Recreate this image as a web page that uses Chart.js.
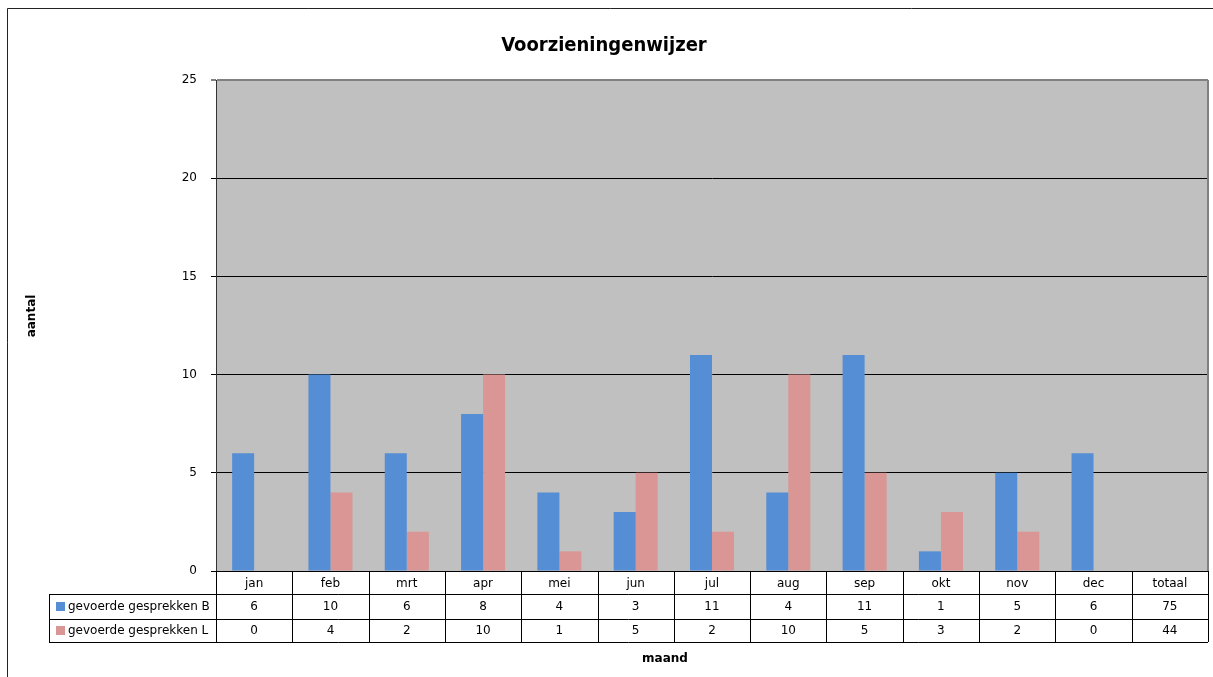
<!DOCTYPE html>
<html lang="nl">
<head>
<meta charset="utf-8">
<title>Voorzieningenwijzer</title>
<script src="https://cdn.jsdelivr.net/npm/chart.js@4/dist/chart.umd.min.js"></script>
<style>
  html, body { margin: 0; padding: 0; background: #fff; }
  #wrap { width: 1213px; height: 677px; }
</style>
</head>
<body>
<div id="wrap"><canvas id="chart" width="1213" height="677"></canvas></div>
<script>
/* ---------- Data ---------- */
const months   = ['jan','feb','mrt','apr','mei','jun','jul','aug','sep','okt','nov','dec','totaal'];
const seriesB  = [6, 10, 6, 8, 4, 3, 11, 4, 11, 1, 5, 6];
const seriesL  = [0, 4, 2, 10, 1, 5, 2, 10, 5, 3, 2, 0];
const totalB   = 75;
const totalL   = 44;
const yTicks   = [0, 5, 10, 15, 20, 25];

const labelB = 'gevoerde gesprekken B';
const labelL = 'gevoerde gesprekken L';
const colorB = '#558ed5';
const colorL = '#d99694';

const FONT = "'DejaVu Sans', 'Liberation Sans', sans-serif";
const TITLE_FONT = "'DejaVu Sans Condensed', 'DejaVu Sans', sans-serif";

/* ---------- Frame, plot background, data table ---------- */
const tablePlugin = {
  id: 'excelTable',
  beforeDraw(chart) {
    const { ctx, chartArea: a } = chart;
    ctx.save();
    ctx.fillStyle = '#fff';
    ctx.fillRect(0, 0, chart.width, chart.height);
    // outer frame
    ctx.strokeStyle = '#222';
    ctx.lineWidth = 1;
    ctx.beginPath();
    ctx.moveTo(7.5, chart.height);
    ctx.lineTo(7.5, 8.5);
    ctx.lineTo(chart.width, 8.5);
    ctx.stroke();
    // plot area
    ctx.fillStyle = '#c0c0c0';
    ctx.fillRect(a.left, a.top, a.right - a.left, a.bottom - a.top);
    ctx.restore();
  },
  afterDraw(chart) {
    const { ctx, chartArea: a } = chart;
    const x = chart.scales.x;
    const colW = (a.right - a.left) / months.length;
    const legendLeft = 49;
    const rows = [a.bottom, a.bottom + 23, a.bottom + 48, a.bottom + 71];

    ctx.save();
    // right edge of the plot
    ctx.strokeStyle = '#808080';
    ctx.lineWidth = 2;
    ctx.beginPath();
    ctx.moveTo(a.right, a.top);
    ctx.lineTo(a.right, a.bottom);
    ctx.stroke();

    // table grid
    ctx.strokeStyle = '#000';
    ctx.lineWidth = 1;
    ctx.beginPath();
    for (let i = 0; i <= months.length; i++) {
      const px = Math.round(x.getPixelForValue(i) - colW / 2) + 0.5;
      ctx.moveTo(px, rows[0]);
      ctx.lineTo(px, rows[3]);
    }
    for (let r = 1; r < rows.length; r++) {
      ctx.moveTo(legendLeft, Math.round(rows[r]) + 0.5);
      ctx.lineTo(a.right, Math.round(rows[r]) + 0.5);
    }
    ctx.moveTo(legendLeft + 0.5, rows[1]);
    ctx.lineTo(legendLeft + 0.5, rows[3]);
    ctx.stroke();

    // cell text
    ctx.fillStyle = '#000';
    ctx.font = '12px ' + FONT;
    ctx.textAlign = 'center';
    ctx.textBaseline = 'middle';
    const valsB = seriesB.concat([totalB]);
    const valsL = seriesL.concat([totalL]);
    months.forEach((m, i) => {
      const cx = x.getPixelForValue(i);
      ctx.fillText(m, cx, (rows[0] + rows[1]) / 2 + 1);
      ctx.fillText(String(valsB[i]), cx, (rows[1] + rows[2]) / 2);
      ctx.fillText(String(valsL[i]), cx, (rows[2] + rows[3]) / 2);
    });

    // legend keys
    ctx.textAlign = 'left';
    [[labelB, colorB, 1], [labelL, colorL, 2]].forEach(([txt, col, r]) => {
      const cy = (rows[r] + rows[r + 1]) / 2;
      ctx.fillStyle = col;
      ctx.fillRect(56, Math.round(cy - 4.5), 9, 9);
      ctx.fillStyle = '#000';
      ctx.fillText(txt, 68, cy);
    });

    // axis titles
    ctx.font = 'bold 12px ' + FONT;
    ctx.textAlign = 'center';
    ctx.fillText('maand', 665, 659);
    ctx.translate(32, 316);
    ctx.rotate(-Math.PI / 2);
    ctx.fillText('aantal', 0, 0);
    ctx.restore();
  }
};

/* ---------- Chart ---------- */
new Chart(document.getElementById('chart'), {
  type: 'bar',
  data: {
    labels: months,
    datasets: [
      { label: labelB, data: seriesB.concat([null]), backgroundColor: colorB, borderWidth: 0 },
      { label: labelL, data: seriesL.concat([null]), backgroundColor: colorL, borderWidth: 0 }
    ]
  },
  options: {
    responsive: false,
    animation: false,
    layout: { padding: { left: 0, right: 5, top: 0, bottom: 0 } },
    datasets: { bar: { barPercentage: 1, categoryPercentage: 0.577 } },
    plugins: {
      legend: { display: false },
      tooltip: { enabled: false },
      title: {
        display: true,
        text: 'Voorzieningenwijzer',
        color: '#000',
        font: { family: TITLE_FONT, size: 20, weight: 'bold' },
        padding: { top: 34, bottom: 22 }
      }
    },
    scales: {
      x: {
        ticks: { display: false },
        grid: { display: false, drawTicks: false },
        border: { display: true, color: '#000', width: 1 },
        afterFit(s) { s.height = 106; }
      },
      y: {
        min: 0,
        max: 25,
        afterBuildTicks(s) { s.ticks = yTicks.map(v => ({ value: v })); },
        ticks: { color: '#000', padding: 14, font: { family: FONT, size: 12 } },
        grid: {
          color: c => (c.tick && c.tick.value === 25 ? '#808080' : '#000'),
          lineWidth: c => (c.tick && c.tick.value === 25 ? 2 : 1),
          tickLength: 5
        },
        border: { color: '#333', width: 1 },
        afterFit(s) { s.width = 216; }
      }
    }
  },
  plugins: [tablePlugin]
});
</script>
</body>
</html>
